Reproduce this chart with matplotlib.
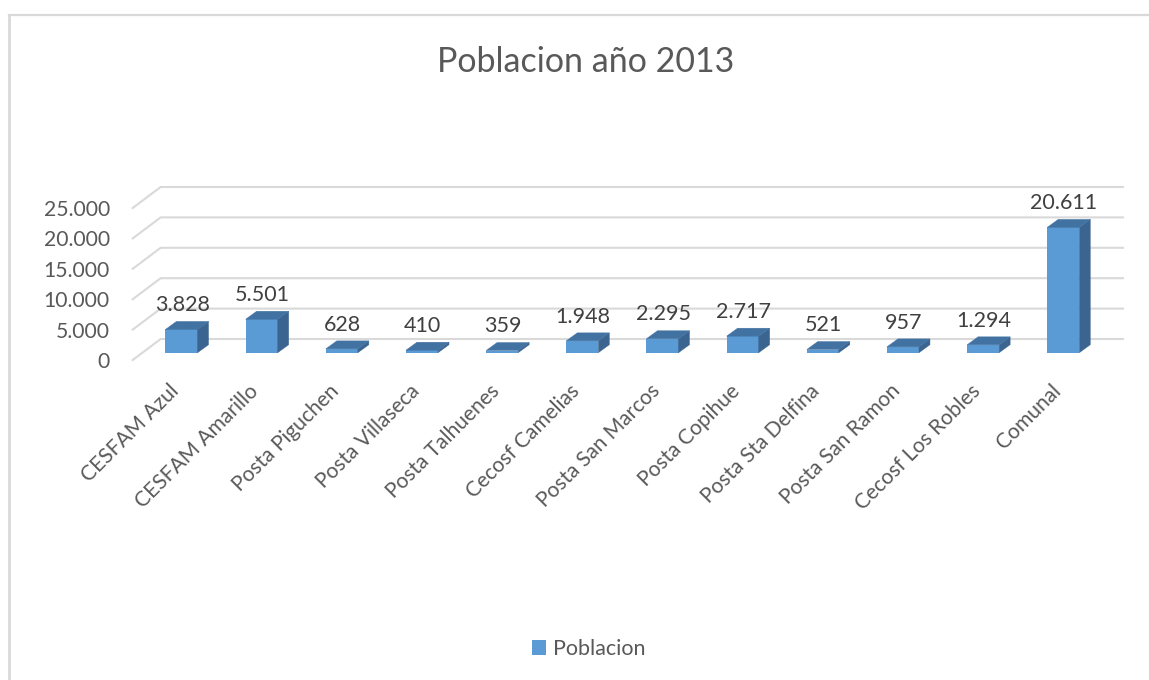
#!/usr/bin/env python
import numpy as np
import matplotlib
matplotlib.use('Agg')
import matplotlib.pyplot as plt
from matplotlib.lines import Line2D
from matplotlib.transforms import ScaledTranslation

plt.rcParams['font.family'] = ['Lato', 'DejaVu Sans']

categories = ['CESFAM Azul', 'CESFAM Amarillo', 'Posta Piguchen', 'Posta Villaseca',
              'Posta Talhuenes', 'Cecosf Camelias', 'Posta San Marcos', 'Posta Copihue',
              'Posta Sta Delfina', 'Posta San Ramon', 'Cecosf Los Robles', 'Comunal']
poblacion = [3828, 5501, 628, 410, 359, 1948, 2295, 2717, 521, 957, 1294, 20611]
value_labels = ['3.828', '5.501', '628', '410', '359', '1.948', '2.295', '2.717',
                '521', '957', '1.294', '20.611']
yticks = [0, 5000, 10000, 15000, 20000, 25000]
ytick_labels = ['0', '5.000', '10.000', '15.000', '20.000', '25.000']

W, H = 1149, 680
fig = plt.figure(figsize=(W / 100, H / 100), dpi=100)

# axes box in pixels, the bar plane sits a bit behind the front edge of the floor
left, right, top, bottom = 132.7, 1123, 187, 360
ax = fig.add_axes([left / W, 1 - bottom / H, (right - left) / W, (bottom - top) / H])
xmin, xmax = -0.609, 11.745
front = 1200      # floor front edge below the bar plane
ymax = 27253
ax.set_xlim(xmin, xmax)
ax.set_ylim(-front, ymax)
ax.patch.set_alpha(0)

floor_dx, floor_dy = 0.349, 3454   # whole floor depth
bar_dx, bar_dy = 0.137, 1316       # bar depth
bar_w = 0.4

grid_col = '#D9D9D9'
for v in yticks:
    ax.plot([xmin, xmin + floor_dx, xmax],
            [v - front, v - front + floor_dy, v - front + floor_dy],
            color=grid_col, lw=1.5, clip_on=False, zorder=1)

x = np.arange(len(categories))
ax.bar(x, poblacion, width=bar_w, color='#5B9BD5', zorder=3, label='Poblacion')
for xi, v in zip(x, poblacion):
    r = xi + bar_w / 2
    l = xi - bar_w / 2
    ax.fill([r, r + bar_dx, r + bar_dx, r], [0, bar_dy, v + bar_dy, v],
            color='#3B6590', lw=0.3, zorder=3)
    ax.fill([l, l + bar_dx, r + bar_dx, r], [v, v + bar_dy, v + bar_dy, v],
            color='#4272A2', lw=0.3, zorder=3)

for xi, v, s in zip(x, poblacion, value_labels):
    ax.annotate(s, (xi, v), xytext=(0.5, 17.5), textcoords='offset points',
                ha='center', va='center', fontsize=15.5, color='#404040', zorder=5)

for sp in ax.spines.values():
    sp.set_visible(False)
ax.set_yticks(np.array(yticks) - front, labels=ytick_labels)
ax.tick_params(axis='y', length=0, pad=16.5, labelsize=15.2, labelcolor='#595959')
ax.set_xticks(x, labels=categories)
ax.tick_params(axis='x', length=0, pad=15, labelsize=15.1, labelcolor='#595959')
shift = ScaledTranslation(-0.13, 0, fig.dpi_scale_trans)
for lab in ax.get_xticklabels():
    lab.set_rotation(45)
    lab.set_ha('right')
    lab.set_rotation_mode('anchor')
    lab.set_transform(lab.get_transform() + shift)

fig.text(586 / W, 1 - 62 / H, 'Poblacion año 2013', ha='center', va='center',
         fontsize=24.5, color='#595959')

handles, labels = ax.get_legend_handles_labels()
leg = fig.legend(handles, labels, loc='center', bbox_to_anchor=(589 / W, 1 - 649 / H),
                 frameon=False, fontsize=15.5, labelcolor='#595959', handlelength=0.65,
                 handleheight=0.65, handletextpad=0.34)

# chart area border, only top and left are in the picture
fig.add_artist(Line2D([8.8 / W, 8.8 / W], [0, 1 - 15 / H], color=grid_col, lw=2))
fig.add_artist(Line2D([8.8 / W, 1], [1 - 15 / H, 1 - 15 / H], color=grid_col, lw=1.6))

fig.savefig('out.png', dpi=100)
